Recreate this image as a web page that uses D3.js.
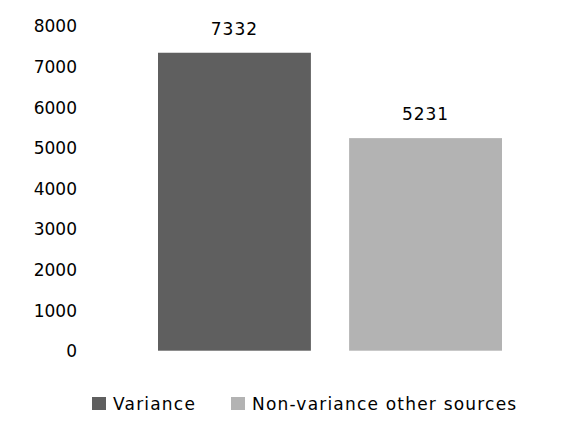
<!DOCTYPE html>
<html>
<head>
<meta charset="utf-8">
<script src="https://cdn.jsdelivr.net/npm/d3@7"></script>
<style>
  html, body { margin: 0; padding: 0; background: #fff; }
  svg text { font-family: "DejaVu Sans", sans-serif; fill: #000; }
</style>
</head>
<body>
<svg id="chart" width="587" height="436"></svg>
<script>
const categories = ["Variance", "Non-variance other sources"];
const values = [7332, 5231];
const colors = ["#5f5f5f", "#b3b3b3"];
const yTicks = [0, 1000, 2000, 3000, 4000, 5000, 6000, 7000, 8000];

const svg = d3.select("#chart");

const x = d3.scaleBand()
  .domain(categories)
  .range([158, 502])
  .paddingInner(0.2)
  .paddingOuter(0);

const y = d3.scaleLinear()
  .domain([0, 8000])
  .range([350.7, 25.6]);

// Value axis: labels only, no line or tick marks
const yAxis = d3.axisLeft(y).tickValues(yTicks).tickFormat(d3.format("d")).tickSize(0).tickPadding(0);
const gy = svg.append("g").attr("transform", "translate(77,0)").call(yAxis);
gy.select(".domain").remove();
gy.selectAll("text")
  .attr("font-size", 17)
  .attr("font-family", null)
  .attr("dy", "0.36em");

// Bars
svg.append("g").selectAll("rect")
  .data(categories)
  .join("rect")
  .attr("x", d => x(d))
  .attr("width", x.bandwidth())
  .attr("y", (d, i) => y(values[i]))
  .attr("height", (d, i) => y(0) - y(values[i]))
  .attr("fill", (d, i) => colors[i]);

// Value labels above bars
svg.append("g").selectAll("text")
  .data(categories)
  .join("text")
  .attr("x", d => x(d) + x.bandwidth() / 2)
  .attr("y", (d, i) => y(values[i]) - 24)
  .attr("text-anchor", "middle")
  .attr("dy", "0.36em")
  .attr("font-size", 17)
  .attr("letter-spacing", 1)
  .text((d, i) => values[i]);

// Legend
const legendItems = [
  { label: categories[0], color: colors[0], x: 92 },
  { label: categories[1], color: colors[1], x: 231 }
];
const lg = svg.append("g");
legendItems.forEach(item => {
  lg.append("rect")
    .attr("x", item.x).attr("y", 397)
    .attr("width", 14).attr("height", 13)
    .attr("fill", item.color);
  lg.append("text")
    .attr("x", item.x + 21).attr("y", 403.7)
    .attr("dy", "0.36em")
    .attr("font-size", 17)
    .attr("letter-spacing", 1.2)
    .text(item.label);
});
</script>
</body>
</html>
